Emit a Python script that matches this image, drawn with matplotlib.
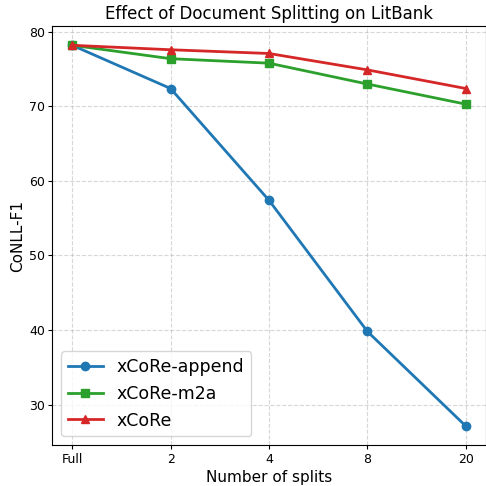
import matplotlib
matplotlib.use("Agg")
import matplotlib.pyplot as plt

splits = ["Full", "2", "4", "8", "20"]
append_vals = [78.2, 72.4, 57.4, 39.8, 27.1]
m2a_vals = [78.2, 76.4, 75.8, 73.0, 70.3]
xcore_vals = [78.2, 77.6, 77.1, 74.9, 72.4]

fig, ax = plt.subplots(figsize=(4.86, 4.86), dpi=100)
x = list(range(len(splits)))
ax.plot(x, append_vals, marker="o", color="#1f77b4", linewidth=2, markersize=6, label="xCoRe-append")
ax.plot(x, m2a_vals, marker="s", color="#2ca02c", linewidth=2, markersize=6, label="xCoRe-m2a")
ax.plot(x, xcore_vals, marker="^", color="#d62728", linewidth=2, markersize=6, label="xCoRe")
ax.set_xticks(x)
ax.set_xticklabels(splits)
ax.tick_params(labelsize=9, length=3, pad=2.5)
ax.set_xlabel("Number of splits", fontsize=11, labelpad=3)
ax.set_ylabel("CoNLL-F1", fontsize=11, labelpad=3)
ax.set_title("Effect of Document Splitting on LitBank", fontsize=12, pad=5)
ax.grid(True, linestyle="--", alpha=0.5)
ax.legend(fontsize=12.5, loc="lower left")
fig.subplots_adjust(left=0.108, right=0.999, top=0.946, bottom=0.084)
fig.savefig("out.png", dpi=100)
